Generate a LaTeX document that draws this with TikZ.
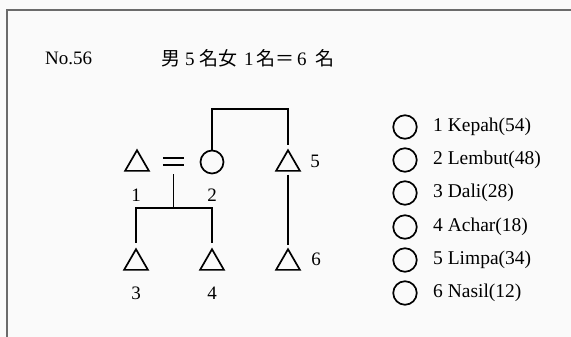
\documentclass[tikz,border=0pt]{standalone}
\usepackage{fontspec}
\setmainfont{Liberation Serif}
\newfontfamily\cjk{Noto Sans CJK JP}
\usetikzlibrary{shapes.geometric}
\newcommand{\tbox}[2]{\makebox[#1pt][l]{#2}}
\tikzset{
  male/.style={draw, line width=1.7pt, regular polygon, regular polygon sides=3, inner sep=0pt, minimum size=27.5pt},
  female/.style={draw, line width=1.7pt, circle, inner sep=0pt, minimum size=23pt},
  legcirc/.style={draw, line width=1.7pt, circle, inner sep=0pt, minimum size=23.5pt},
  lbl/.style={font=\fontsize{19}{19}\selectfont, inner sep=0pt},
  legtxt/.style={font=\fontsize{19.5}{19.5}\selectfont, inner sep=0pt, anchor=west},
  link/.style={line width=1.8pt},
  frame/.style={draw=black!58, line width=2pt}
}
\begin{document}
\begin{tikzpicture}[x=1pt, y=-1pt]
\useasboundingbox (0,0) rectangle (571,337);
\fill[black!2] (0,0) rectangle (571,337);
\draw[frame] (7,340) -- (7,10) -- (575,10);
% title
\node[anchor=west, inner sep=0pt, font=\fontsize{19}{19}\selectfont] (no) at (45,58) {No.56};
\node[anchor=west, inner sep=0pt, font=\fontsize{19}{19}\selectfont] (title) at (161,58) {\tbox{24}{\cjk 男}\tbox{14}{5}\tbox{19}{\cjk 名}\tbox{26}{\cjk 女}\tbox{12}{1}\tbox{19}{\cjk 名}\tbox{22}{\cjk ＝}\tbox{18}{6}{\cjk 名}};
% individuals
\node[male] (t1) at (137,164) {};
\node[inner sep=0pt, minimum width=21pt, minimum height=7pt] (eq) at (173.5,161.5) {};
\draw[link] (eq.north west) -- (eq.north east);
\draw[link] (eq.south west) -- (eq.south east);
\node[female] (c2) at (212,162) {};
\node[male] (t5) at (288,164) {};
\node[male] (t3) at (136,263) {};
\node[male] (t4) at (212,263) {};
\node[male] (t6) at (288,263) {};
% labels
\node[lbl] (l1) at (136,195) {1};
\node[lbl] (l2) at (212,195) {2};
\node[lbl] (l3) at (136,293) {3};
\node[lbl] (l4) at (212,293) {4};
\node[lbl] (l5) at (315,161) {5};
\node[lbl] (l6) at (316,259) {6};
% connectors
\coordinate (topbar) at (250,109);
\coordinate (desc) at (173.5,174);
\coordinate (bar) at (173.5,208);
\draw[link, shorten >=4pt] (c2.north) |- (topbar) -| (t5.north);
\draw[link, shorten <=3pt, shorten >=3pt] (t5.south) -- (t6.north);
\draw[link] (desc) -- (bar);
\draw[link, shorten <=5pt, shorten >=5pt] (t3.north) |- (bar) -| (t4.north);
% legend
\foreach \i/\y/\t in {1/127/{1 Kepah(54)}, 2/160/{2 Lembut(48)}, 3/193/{3 Dali(28)}, 4/227/{4 Achar(18)}, 5/260/{5 Limpa(34)}, 6/293/{6 Nasil(12)}}{
  \node[legcirc] (lc\i) at (405,\y) {};
  \node[legtxt] (lt\i) at (433,\y) {\t};
}
\end{tikzpicture}
\end{document}
